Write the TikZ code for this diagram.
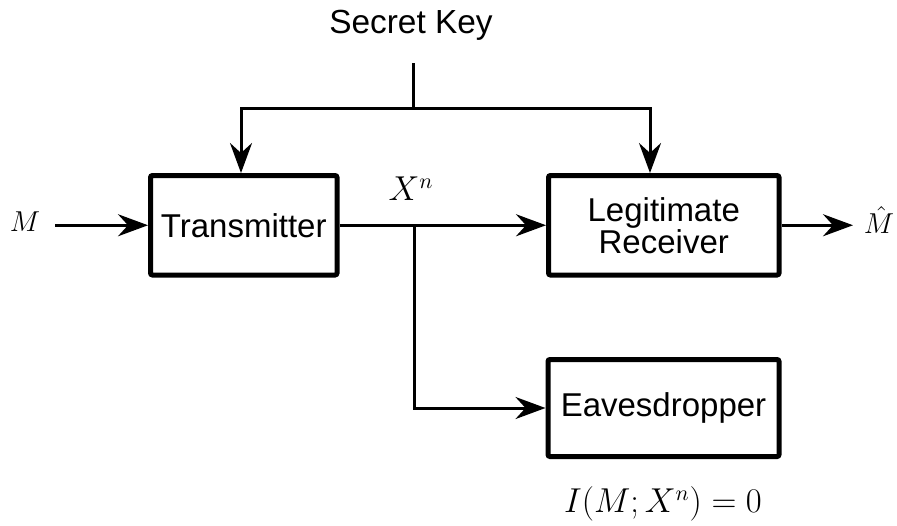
\documentclass[tikz,border=0pt]{standalone}
\usepackage{fontspec}
\newfontfamily\arialf{Liberation Sans}
\usetikzlibrary{arrows.meta}
\begin{document}
\begin{tikzpicture}[x=0.5pt,y=-0.5pt,
  blk/.style={draw,line width=2.5pt,rounded corners=1pt,align=center,inner sep=0pt,
    font=\arialf\fontsize{16.5}{16}\selectfont},
  conn/.style={line width=1.5pt},
  arr/.style={conn,-{Stealth[length=15pt,width=11pt,inset=5pt]}},
  lbl/.style={inner sep=0pt,font=\fontsize{16}{16}\selectfont},
  slbl/.style={inner sep=0pt,font=\fontsize{13.5}{13.5}\selectfont}]
\useasboundingbox (0,0) rectangle (897,525);
% blocks
\node[blk,minimum width=93.25pt,minimum height=49.75pt] (tx) at (243.75,225.25) {Transmitter};
\node[blk,minimum width=115.25pt,minimum height=49.75pt] (rx) at (663.75,225.25) {Legitimate\\Receiver};
\node[blk,minimum width=115.5pt,minimum height=48.5pt] (ev) at (663.5,408) {Eavesdropper};
% labels
\node[lbl,font=\arialf\fontsize{16.7}{16}\selectfont] (sk) at (411,25) {Secret Key};
\node[slbl] (m) at (25,222) {$M$};
\node[slbl] (mh) at (879,220) {$\hat{M}$};
\node[lbl] (xn) at (411,189) {$X^n$};
\node[lbl] (info) at (663,504) {$I(M;X^n)=0$};
% coordinates
\coordinate (min) at (55,225.25);
\coordinate (mout) at (853,225.25);
\coordinate (br) at (414,225.25);
\coordinate (ktop) at (413,63);
\coordinate (kj) at (413,108);
\coordinate (kl) at (241,108);
\coordinate (kr) at (650,108);
% connectors
\draw[arr] (min) -- (tx.west);
\draw[arr] (tx.east) -- (rx.west);
\draw[arr] (rx.east) -- (mout);
\draw[arr] (br) |- (ev.west);
\draw[conn] (ktop) -- (kj);
\draw[conn,{Stealth[length=15pt,width=11pt,inset=5pt]}-{Stealth[length=15pt,width=11pt,inset=5pt]}]
  (kl |- tx.north) -- (kl) -- (kr) -- (kr |- rx.north);
\end{tikzpicture}
\end{document}
